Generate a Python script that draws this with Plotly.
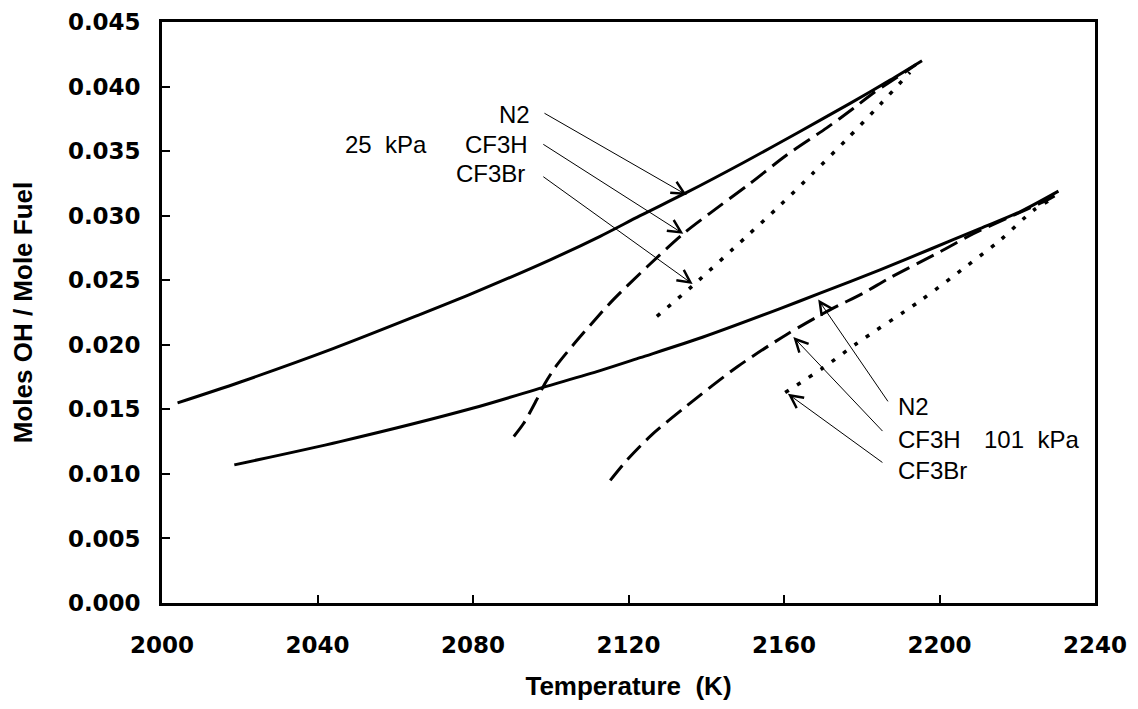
import plotly.graph_objects as go

# ---- data ----
# 25 kPa
t25_n2 = [2004, 2020, 2044, 2066, 2080, 2100, 2112.7, 2123, 2135, 2149.5, 2164, 2177, 2187.3, 2195.5]
oh25_n2 = [0.0155, 0.0171, 0.0197, 0.0223, 0.0240, 0.0266, 0.0284, 0.0300, 0.0318, 0.0341, 0.0365, 0.0387, 0.0405, 0.0420]

t25_cf3h = [2090.5, 2093, 2096.3, 2098.5, 2101.5, 2105.8, 2110.1, 2116.1, 2125, 2134.1, 2141, 2151.3, 2160.7, 2171, 2177.8, 2183, 2189, 2194]
oh25_cf3h = [0.0129, 0.0139, 0.0157, 0.0170, 0.0184, 0.0200, 0.0215, 0.0235, 0.0261, 0.0286, 0.0302, 0.0325, 0.0347, 0.0368, 0.0383, 0.0395, 0.0407, 0.0417]

t25_cf3br = [2127.3, 2136.6, 2150.4, 2159, 2167.5, 2176.1, 2184.7, 2192.4]
oh25_cf3br = [0.0222, 0.0246, 0.0284, 0.0308, 0.0333, 0.0359, 0.0386, 0.0411]

# 101 kPa
t101_n2 = [2018.6, 2045.8, 2080.1, 2098, 2112.7, 2123, 2139.2, 2159, 2169.3, 2184.7, 2197.6, 2210.4, 2220.7, 2230.6]
oh101_n2 = [0.0107, 0.0125, 0.0151, 0.0167, 0.0180, 0.0190, 0.0206, 0.0228, 0.0240, 0.0258, 0.0274, 0.0290, 0.0303, 0.0319]

t101_cf3h = [2115.3, 2119.7, 2125.9, 2134.7, 2148, 2160.7, 2171.8, 2180.4, 2187.3, 2200.1, 2208.7, 2218.1, 2227.6, 2230]
oh101_cf3h = [0.0095, 0.0111, 0.0130, 0.0152, 0.0183, 0.0208, 0.0227, 0.0240, 0.0252, 0.0272, 0.0286, 0.0299, 0.0312, 0.0316]

t101_cf3br = [2160.3, 2170, 2178.7, 2195, 2207, 2215.6, 2224.1, 2229]
oh101_cf3br = [0.0163, 0.0182, 0.0201, 0.0234, 0.0261, 0.0281, 0.0304, 0.0313]

x_ticks = [2000, 2040, 2080, 2120, 2160, 2200, 2240]
y_ticks = [0.000, 0.005, 0.010, 0.015, 0.020, 0.025, 0.030, 0.035, 0.040, 0.045]

# label texts, label anchor points and arrow (tail -> tip) positions
labels_25 = ["N2", "CF3H", "CF3Br"]
label25_x = [2095.2, 2094.7, 2093.9]
label25_y = [0.0378, 0.03555, 0.03323]
arrow25_tail = [(2098.0, 0.0380), (2097.7, 0.0356), (2097.7, 0.0331)]
arrow25_tip = [(2135.0, 0.0316), (2134.1, 0.0286), (2136.5, 0.0247)]

labels_101 = ["N2", "CF3H", "CF3Br"]
label101_x = [2188.7, 2188.7, 2188.7]
label101_y = [0.0152, 0.0127, 0.0103]
arrow101_tail = [(2187.0, 0.0155), (2185.7, 0.0132), (2185.7, 0.0108)]
arrow101_tip = [(2168.8, 0.0235), (2162.4, 0.0206), (2161.0, 0.0162)]

pressure_labels = ["25\u00a0 kPa", "101\u00a0 kPa"]
pressure_x = [2057.6, 2223.7]
pressure_y = [0.03555, 0.0127]

# ---- figure ----
fig = go.Figure()

solid = dict(color="black", width=3)
dashed = dict(color="black", width=3, dash="19px,8px")
dotted = dict(color="black", width=3.5, dash="4px,10px")

series = [
    (t25_n2, oh25_n2, solid, "N2, 25 kPa"),
    (t25_cf3h, oh25_cf3h, dashed, "CF3H, 25 kPa"),
    (t25_cf3br, oh25_cf3br, dotted, "CF3Br, 25 kPa"),
    (t101_n2, oh101_n2, solid, "N2, 101 kPa"),
    (t101_cf3h, oh101_cf3h, dashed, "CF3H, 101 kPa"),
    (t101_cf3br, oh101_cf3br, dotted, "CF3Br, 101 kPa"),
]
for xs, ys, ln, nm in series:
    fig.add_trace(go.Scatter(x=xs, y=ys, mode="lines", name=nm,
                             line=dict(shape="spline", smoothing=0.8, **ln),
                             showlegend=False, hoverinfo="x+y+name"))

ann_font = dict(family="Liberation Sans", size=24, color="black")
annotations = []
for txt, x, y in zip(labels_25, label25_x, label25_y):
    annotations.append(dict(x=x, y=y, xref="x", yref="y", text=txt, showarrow=False,
                            xanchor="right", yanchor="middle", font=ann_font))
for txt, x, y in zip(labels_101, label101_x, label101_y):
    annotations.append(dict(x=x, y=y, xref="x", yref="y", text=txt, showarrow=False,
                            xanchor="left", yanchor="middle", font=ann_font))
for txt, x, y in zip(pressure_labels, pressure_x, pressure_y):
    annotations.append(dict(x=x, y=y, xref="x", yref="y", text=txt, showarrow=False,
                            xanchor="center", yanchor="middle", font=ann_font))
for (ax, ay), (x, y) in list(zip(arrow25_tail, arrow25_tip)) + list(zip(arrow101_tail, arrow101_tip)):
    annotations.append(dict(x=x, y=y, ax=ax, ay=ay, xref="x", yref="y", axref="x", ayref="y",
                            text="", showarrow=True, arrowhead=5, arrowsize=2.5,
                            arrowwidth=1, arrowcolor="black", standoff=0))

tick_font = dict(family="DejaVu Sans", size=23, color="black", weight="bold")
title_font = dict(family="Liberation Sans", size=26, color="black", weight="bold")

fig.update_layout(
    width=1138, height=709,
    margin=dict(l=162, r=43, t=22, b=106),
    paper_bgcolor="white", plot_bgcolor="white",
    annotations=annotations,
    xaxis=dict(
        range=[2000, 2240], tickvals=x_ticks, ticktext=[str(v) for v in x_ticks],
        ticks="inside", ticklen=8, tickwidth=1.5, tickcolor="black",
        showline=True, linecolor="black", linewidth=2.5, mirror=True,
        showgrid=False, zeroline=False, tickfont=tick_font,
        ticklabelstandoff=20,
        title=dict(text="Temperature\u00a0 (K)", font=title_font, standoff=20),
        automargin=False,
    ),
    yaxis=dict(
        range=[0, 0.045], tickvals=y_ticks, ticktext=[f"{v:.3f}" for v in y_ticks],
        ticks="inside", ticklen=8, tickwidth=1.5, tickcolor="black",
        showline=True, linecolor="black", linewidth=2.5, mirror=True,
        showgrid=False, zeroline=False, tickfont=tick_font,
        ticklabelstandoff=14,
        title=dict(text="Moles OH / Mole Fuel", font=title_font, standoff=28),
        automargin=False,
    ),
)

fig.write_html("out.html")
